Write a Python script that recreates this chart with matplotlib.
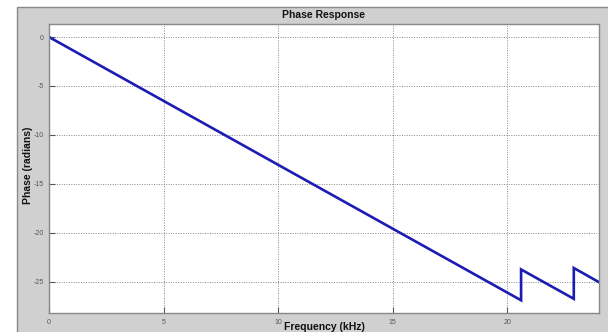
import matplotlib
matplotlib.use("Agg")
import matplotlib.pyplot as plt
from matplotlib.patches import Rectangle

freq_khz = [0.0, 20.6, 20.6, 22.9, 22.9, 24.0]
phase_rad = [0.0, -26.9, -23.75, -26.75, -23.6, -25.05]
xticks = [0, 5, 10, 15, 20]
yticks = [0, -5, -10, -15, -20, -25]

plt.rcParams['font.family'] = ['Liberation Sans', 'DejaVu Sans']

W, H = 608, 332
fig = plt.figure(figsize=(W/100, H/100), dpi=100, facecolor='white')
fig.patches.append(Rectangle((17/W, -0.01), 1.0, (H-7)/H + 0.01, transform=fig.transFigure,
                             facecolor='#d0d0d0', edgecolor='#8a8a8a', linewidth=1.0, zorder=-5))

ax = fig.add_axes([49/W, (H-313)/H, (599-49)/W, (313-24)/H])
ax.set_zorder(5)
ax.set_facecolor('white')
ax.plot(freq_khz, phase_rad, color='#1c1cb4', linewidth=1.9, solid_joinstyle='miter')
ax.set_xlim(0, 24)
ax.set_ylim(-28.2, 1.33)
ax.set_xticks(xticks)
ax.set_yticks(yticks)
ax.set_xticklabels([str(v) for v in xticks])
ax.set_yticklabels([str(v) for v in yticks])
ax.tick_params(direction='in', length=4, labelsize=5, colors='#555555', pad=4, width=0.8)
ax.grid(True, linestyle=(0, (1, 1.5)), color='#888888', linewidth=0.7)
for s in ax.spines.values():
    s.set_color('#888888')
    s.set_linewidth(1.0)

fig.text(0.5*(49+599)/W, 1 - 15/H, 'Phase Response', ha='center', va='center',
         fontsize=7.5, fontweight='bold', color='#111111', zorder=10)
fig.text(28/W, 1 - 165/H, 'Phase (radians)', ha='center', va='center', rotation=90,
         fontsize=7.5, fontweight='bold', color='#111111', zorder=10)
fig.text(0.5*(49+599)/W, 1 - 327/H, 'Frequency (kHz)', ha='center', va='center',
         fontsize=7.5, fontweight='bold', color='#111111', zorder=10)

fig.savefig('out.png', dpi=100, facecolor='white')
